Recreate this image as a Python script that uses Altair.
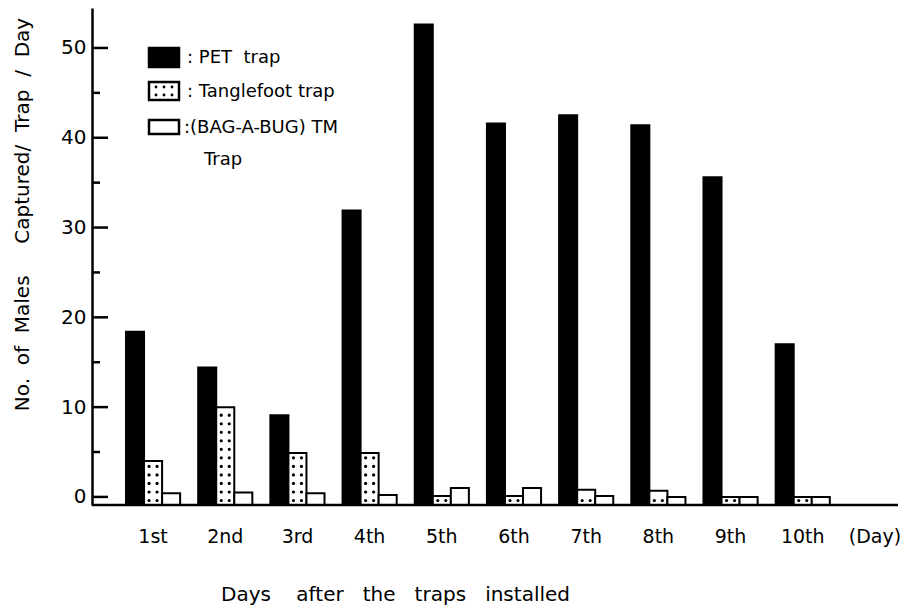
import altair as alt
import pandas as pd

days = ["1st", "2nd", "3rd", "4th", "5th", "6th", "7th", "8th", "9th", "10th"]
axis_cats = days + ["(Day)"]
traps = ["PET trap", "Tanglefoot trap", "(BAG-A-BUG) TM Trap"]
pet = [18.4, 14.4, 9.1, 31.9, 52.6, 41.6, 42.5, 41.4, 35.6, 17.0]
tanglefoot = [4.0, 10.0, 4.9, 4.9, 0.1, 0.1, 0.8, 0.7, 0.0, 0.0]
bagabug = [0.4, 0.5, 0.4, 0.2, 1.0, 1.0, 0.1, 0.0, 0.0, 0.0]
y_major = [0, 10, 20, 30, 40, 50]
y_minor = [5, 15, 25, 35, 45]
legend_lines = [": PET  trap", ": Tanglefoot trap", ":(BAG-A-BUG) TM", "Trap"]

NB = "\u00a0"
FONT = "DejaVu Sans"
BASE = -0.9
YMAX = 54.45
W, H = 808, 497

rows = []
for d, a, b, c in zip(days, pet, tanglefoot, bagabug):
    rows.append({"day": d, "trap": traps[0], "value": a})
    rows.append({"day": d, "trap": traps[1], "value": b})
    rows.append({"day": d, "trap": traps[2], "value": c})
df = pd.DataFrame(rows)

# dotted pattern of the Tanglefoot bars (decoration derived from the values)
dots = []
for d, v in zip(days, tanglefoot):
    k = 0
    while True:
        yk = BASE + 0.5 + 0.95 * k
        if k > 0 and yk > v - 0.3:
            break
        dots.append({"day": d, "trap": traps[1], "value": yk})
        k += 1
dots_df = pd.DataFrame(dots)

TWO_DOTS = ("M-1.4,0A0.4,0.4,0,1,0,-0.6,0A0.4,0.4,0,1,0,-1.4,0Z "
            "M0.6,0A0.4,0.4,0,1,0,1.4,0A0.4,0.4,0,1,0,0.6,0Z")

x_enc = alt.X(
    "day:N",
    scale=alt.Scale(domain=axis_cats, range=[34, 810], paddingInner=0.25, paddingOuter=0),
    axis=alt.Axis(
        title=f"Days{NB*4}after{NB*3}the{NB*3}traps{NB*3}installed",
        domain=False, ticks=False, labelAngle=0, labelPadding=22,
        labelFontSize=19, titleFontSize=20, titleFontWeight="normal",
        titleX=303, titleY=89, titleAlign="center", titleBaseline="middle",
    ),
)
xo_enc = alt.XOffset("trap:N", scale=alt.Scale(domain=traps, paddingInner=0, paddingOuter=0))
y_enc = alt.Y(
    "value:Q",
    scale=alt.Scale(domain=[BASE, YMAX], nice=False, zero=False),
    axis=alt.Axis(
        values=y_major, tickSize=0, labelPadding=6, grid=False,
        domainWidth=2.5, domainColor="black", labelFontSize=20,
        title=f"No.{NB*2}of{NB*2}Males{NB*5}Captured/{NB*2}Trap{NB*2}/{NB*2}Day",
        titleFontSize=20, titleFontWeight="normal",
        titleX=-70, titleY=206, titleAngle=270, titleAlign="center", titleBaseline="middle",
    ),
)

bars = alt.Chart(df).mark_bar(stroke="black", strokeWidth=2).encode(
    x=x_enc,
    xOffset=xo_enc,
    y=y_enc,
    y2=alt.datum(BASE),
    fill=alt.Fill("trap:N", scale=alt.Scale(domain=traps, range=["black", "white", "white"]), legend=None),
)

dot_marks = alt.Chart(dots_df).mark_point(
    shape=TWO_DOTS, size=64, filled=True, color="black", opacity=1, strokeWidth=0
).encode(x=x_enc, xOffset=xo_enc, y=y_enc)

major_ticks = alt.Chart(pd.DataFrame({"value": y_major})).mark_rule(color="black", strokeWidth=2.5).encode(
    y=y_enc, x=alt.value(0), x2=alt.value(16))
minor_ticks = alt.Chart(pd.DataFrame({"value": y_minor})).mark_rule(color="black", strokeWidth=2.5).encode(
    y=y_enc, x=alt.value(0), x2=alt.value(8))

one = pd.DataFrame({"k": [0]})
baseline = alt.Chart(one).mark_rule(color="black", strokeWidth=2.5).encode(
    y=alt.value(H), x=alt.value(0), x2=alt.value(806))

# manual legend
sw = [
    dict(fill="black", y=40, y2=59),
    dict(fill="white", y=74, y2=92),
    dict(fill="white", y=112, y2=126),
]
legend_layers = []
for s in sw:
    legend_layers.append(
        alt.Chart(one).mark_rect(fill=s["fill"], stroke="black", strokeWidth=2.5).encode(
            x=alt.value(57), x2=alt.value(87), y=alt.value(s["y"]), y2=alt.value(s["y2"]))
    )
leg_dots = pd.DataFrame({"px": [64, 72, 80, 64, 72, 80], "py": [79, 79, 79, 87, 87, 87]})
legend_layers.append(
    alt.Chart(leg_dots).mark_circle(size=8, color="black", opacity=1).encode(
        x=alt.X("px:Q", scale=None), y=alt.Y("py:Q", scale=None))
)
text_pos = [(95, 50), (95, 84), (92, 120), (112, 152)]
for line, (tx, ty) in zip(legend_lines, text_pos):
    legend_layers.append(
        alt.Chart(pd.DataFrame({"t": [line.replace(" ", NB)]})).mark_text(
            align="left", baseline="middle", font=FONT, fontSize=18, color="black").encode(
            text="t:N", x=alt.value(tx), y=alt.value(ty))
    )

chart = alt.layer(
    bars, dot_marks, major_ticks, minor_ticks, baseline, *legend_layers
).properties(
    width=W, height=H,
    autosize=alt.AutoSizeParams(type="none"),
    padding={"left": 84, "top": 0, "right": 2, "bottom": 100},
    background="white",
).configure_view(stroke=None).configure_axis(
    labelFont=FONT, titleFont=FONT, labelColor="black", titleColor="black"
)

chart.save("out.html", embed_options={"renderer": "svg", "actions": False})
